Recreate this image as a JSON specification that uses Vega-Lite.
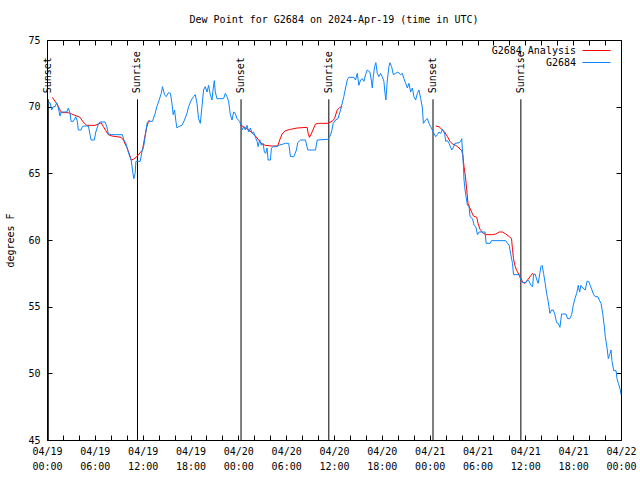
{
"$schema": "https://vega.github.io/schema/vega-lite/v6.json",
"width": 574, "height": 400,
"autosize": "none",
"padding": {"left": 47, "top": 40, "right": 19, "bottom": 40},
"background": "white",
"title": {"text": "Dew Point for G2684 on 2024-Apr-19 (time in UTC)", "font": "DejaVu Sans Mono", "fontSize": 10, "fontWeight": "normal", "color": "black", "anchor": "middle", "offset": 10},
"config": {
  "view": {"stroke": "black", "strokeWidth": 1},
  "axis": {"labelFont": "DejaVu Sans Mono", "labelFontSize": 10, "labelColor": "black", "titleFont": "DejaVu Sans Mono", "titleFontSize": 10, "titleFontWeight": "normal", "titleColor": "black", "tickColor": "black", "grid": false, "tickSize": -5, "labelOverlap": false, "labelFlush": false, "domain": false}
},
"datasets": {
"sun": [
{"hour": 0.16, "event": "Sunset"}, {"hour": 11.35, "event": "Sunrise"}, {"hour": 24.34, "event": "Sunset"},
{"hour": 35.35, "event": "Sunrise"}, {"hour": 48.42, "event": "Sunset"}, {"hour": 59.44, "event": "Sunrise"}
],
"obs": [
{"hour":0.67,"dewpoint":70.7,"series":"G2684 Analysis","segment":"a1"},
{"hour":1.01,"dewpoint":70.4,"series":"G2684 Analysis","segment":"a1"},
{"hour":1.34,"dewpoint":70.1,"series":"G2684 Analysis","segment":"a1"},
{"hour":1.63,"dewpoint":69.75,"series":"G2684 Analysis","segment":"a1"},
{"hour":1.85,"dewpoint":69.55,"series":"G2684 Analysis","segment":"a1"},
{"hour":2.68,"dewpoint":69.55,"series":"G2684 Analysis","segment":"a1"},
{"hour":3.10,"dewpoint":69.45,"series":"G2684 Analysis","segment":"a1"},
{"hour":3.73,"dewpoint":69.3,"series":"G2684 Analysis","segment":"a1"},
{"hour":4.15,"dewpoint":69.2,"series":"G2684 Analysis","segment":"a1"},
{"hour":4.36,"dewpoint":69.0,"series":"G2684 Analysis","segment":"a1"},
{"hour":4.69,"dewpoint":68.75,"series":"G2684 Analysis","segment":"a1"},
{"hour":4.99,"dewpoint":68.6,"series":"G2684 Analysis","segment":"a1"},
{"hour":6.03,"dewpoint":68.6,"series":"G2684 Analysis","segment":"a1"},
{"hour":6.45,"dewpoint":68.7,"series":"G2684 Analysis","segment":"a1"},
{"hour":6.79,"dewpoint":68.8,"series":"G2684 Analysis","segment":"a1"},
{"hour":7.07,"dewpoint":68.5,"series":"G2684 Analysis","segment":"a1"},
{"hour":7.38,"dewpoint":68.2,"series":"G2684 Analysis","segment":"a1"},
{"hour":7.70,"dewpoint":67.9,"series":"G2684 Analysis","segment":"a1"},
{"hour":8.13,"dewpoint":67.8,"series":"G2684 Analysis","segment":"a1"},
{"hour":8.76,"dewpoint":67.75,"series":"G2684 Analysis","segment":"a1"},
{"hour":9.30,"dewpoint":67.7,"series":"G2684 Analysis","segment":"a1"},
{"hour":9.59,"dewpoint":67.5,"series":"G2684 Analysis","segment":"a1"},
{"hour":9.80,"dewpoint":67.2,"series":"G2684 Analysis","segment":"a1"},
{"hour":10.02,"dewpoint":66.95,"series":"G2684 Analysis","segment":"a1"},
{"hour":10.30,"dewpoint":66.5,"series":"G2684 Analysis","segment":"a1"},
{"hour":10.56,"dewpoint":66.0,"series":"G2684 Analysis","segment":"a1"},
{"hour":10.84,"dewpoint":66.05,"series":"G2684 Analysis","segment":"a1"},
{"hour":11.27,"dewpoint":66.25,"series":"G2684 Analysis","segment":"a1"},
{"hour":11.69,"dewpoint":66.55,"series":"G2684 Analysis","segment":"a1"},
{"hour":11.98,"dewpoint":66.75,"series":"G2684 Analysis","segment":"a1"},
{"hour":12.23,"dewpoint":67.6,"series":"G2684 Analysis","segment":"a1"},
{"hour":12.48,"dewpoint":68.4,"series":"G2684 Analysis","segment":"a1"},
{"hour":12.73,"dewpoint":68.9,"series":"G2684 Analysis","segment":"a1"},
{"hour":12.86,"dewpoint":69.0,"series":"G2684 Analysis","segment":"a1"},
{"hour":24.25,"dewpoint":68.6,"series":"G2684 Analysis","segment":"a2"},
{"hour":24.67,"dewpoint":68.5,"series":"G2684 Analysis","segment":"a2"},
{"hour":25.30,"dewpoint":68.25,"series":"G2684 Analysis","segment":"a2"},
{"hour":25.72,"dewpoint":68.05,"series":"G2684 Analysis","segment":"a2"},
{"hour":26.14,"dewpoint":67.8,"series":"G2684 Analysis","segment":"a2"},
{"hour":26.55,"dewpoint":67.5,"series":"G2684 Analysis","segment":"a2"},
{"hour":26.98,"dewpoint":67.2,"series":"G2684 Analysis","segment":"a2"},
{"hour":27.39,"dewpoint":67.1,"series":"G2684 Analysis","segment":"a2"},
{"hour":28.24,"dewpoint":67.05,"series":"G2684 Analysis","segment":"a2"},
{"hour":28.94,"dewpoint":67.05,"series":"G2684 Analysis","segment":"a2"},
{"hour":29.19,"dewpoint":67.5,"series":"G2684 Analysis","segment":"a2"},
{"hour":29.49,"dewpoint":67.95,"series":"G2684 Analysis","segment":"a2"},
{"hour":29.91,"dewpoint":68.2,"series":"G2684 Analysis","segment":"a2"},
{"hour":30.54,"dewpoint":68.3,"series":"G2684 Analysis","segment":"a2"},
{"hour":31.38,"dewpoint":68.4,"series":"G2684 Analysis","segment":"a2"},
{"hour":32.63,"dewpoint":68.45,"series":"G2684 Analysis","segment":"a2"},
{"hour":32.76,"dewpoint":68.0,"series":"G2684 Analysis","segment":"a2"},
{"hour":32.92,"dewpoint":67.7,"series":"G2684 Analysis","segment":"a2"},
{"hour":33.14,"dewpoint":67.95,"series":"G2684 Analysis","segment":"a2"},
{"hour":33.46,"dewpoint":68.4,"series":"G2684 Analysis","segment":"a2"},
{"hour":33.68,"dewpoint":68.7,"series":"G2684 Analysis","segment":"a2"},
{"hour":34.09,"dewpoint":68.75,"series":"G2684 Analysis","segment":"a2"},
{"hour":35.15,"dewpoint":68.75,"series":"G2684 Analysis","segment":"a2"},
{"hour":35.78,"dewpoint":68.9,"series":"G2684 Analysis","segment":"a2"},
{"hour":36.06,"dewpoint":69.1,"series":"G2684 Analysis","segment":"a2"},
{"hour":36.40,"dewpoint":69.75,"series":"G2684 Analysis","segment":"a2"},
{"hour":36.73,"dewpoint":69.95,"series":"G2684 Analysis","segment":"a2"},
{"hour":37.03,"dewpoint":70.0,"series":"G2684 Analysis","segment":"a2"},
{"hour":48.76,"dewpoint":68.55,"series":"G2684 Analysis","segment":"a3"},
{"hour":49.17,"dewpoint":68.5,"series":"G2684 Analysis","segment":"a3"},
{"hour":49.60,"dewpoint":68.25,"series":"G2684 Analysis","segment":"a3"},
{"hour":49.89,"dewpoint":68.1,"series":"G2684 Analysis","segment":"a3"},
{"hour":50.23,"dewpoint":67.75,"series":"G2684 Analysis","segment":"a3"},
{"hour":50.55,"dewpoint":67.4,"series":"G2684 Analysis","segment":"a3"},
{"hour":50.86,"dewpoint":67.2,"series":"G2684 Analysis","segment":"a3"},
{"hour":51.27,"dewpoint":67.1,"series":"G2684 Analysis","segment":"a3"},
{"hour":51.68,"dewpoint":66.9,"series":"G2684 Analysis","segment":"a3"},
{"hour":52.02,"dewpoint":66.7,"series":"G2684 Analysis","segment":"a3"},
{"hour":52.15,"dewpoint":66.4,"series":"G2684 Analysis","segment":"a3"},
{"hour":52.31,"dewpoint":65.5,"series":"G2684 Analysis","segment":"a3"},
{"hour":52.49,"dewpoint":64.75,"series":"G2684 Analysis","segment":"a3"},
{"hour":52.65,"dewpoint":63.75,"series":"G2684 Analysis","segment":"a3"},
{"hour":52.81,"dewpoint":62.75,"series":"G2684 Analysis","segment":"a3"},
{"hour":53.15,"dewpoint":62.25,"series":"G2684 Analysis","segment":"a3"},
{"hour":53.49,"dewpoint":61.8,"series":"G2684 Analysis","segment":"a3"},
{"hour":53.91,"dewpoint":61.7,"series":"G2684 Analysis","segment":"a3"},
{"hour":54.07,"dewpoint":61.25,"series":"G2684 Analysis","segment":"a3"},
{"hour":54.32,"dewpoint":60.8,"series":"G2684 Analysis","segment":"a3"},
{"hour":54.62,"dewpoint":60.55,"series":"G2684 Analysis","segment":"a3"},
{"hour":55.04,"dewpoint":60.4,"series":"G2684 Analysis","segment":"a3"},
{"hour":55.88,"dewpoint":60.4,"series":"G2684 Analysis","segment":"a3"},
{"hour":56.30,"dewpoint":60.45,"series":"G2684 Analysis","segment":"a3"},
{"hour":56.72,"dewpoint":60.6,"series":"G2684 Analysis","segment":"a3"},
{"hour":57.14,"dewpoint":60.6,"series":"G2684 Analysis","segment":"a3"},
{"hour":57.55,"dewpoint":60.45,"series":"G2684 Analysis","segment":"a3"},
{"hour":57.97,"dewpoint":60.25,"series":"G2684 Analysis","segment":"a3"},
{"hour":58.27,"dewpoint":60.1,"series":"G2684 Analysis","segment":"a3"},
{"hour":58.39,"dewpoint":59.3,"series":"G2684 Analysis","segment":"a3"},
{"hour":58.52,"dewpoint":58.6,"series":"G2684 Analysis","segment":"a3"},
{"hour":58.68,"dewpoint":58.1,"series":"G2684 Analysis","segment":"a3"},
{"hour":58.93,"dewpoint":57.7,"series":"G2684 Analysis","segment":"a3"},
{"hour":59.22,"dewpoint":57.4,"series":"G2684 Analysis","segment":"a3"},
{"hour":59.65,"dewpoint":56.85,"series":"G2684 Analysis","segment":"a3"},
{"hour":59.95,"dewpoint":56.75,"series":"G2684 Analysis","segment":"a3"},
{"hour":60.28,"dewpoint":57.0,"series":"G2684 Analysis","segment":"a3"},
{"hour":60.91,"dewpoint":57.5,"series":"G2684 Analysis","segment":"a3"},
{"hour":61.03,"dewpoint":57.4,"series":"G2684 Analysis","segment":"a3"},
{"hour":0.16,"dewpoint":70.25,"series":"G2684","segment":"o"},
{"hour":0.38,"dewpoint":70.3,"series":"G2684","segment":"o"},
{"hour":0.59,"dewpoint":69.75,"series":"G2684","segment":"o"},
{"hour":0.79,"dewpoint":70.0,"series":"G2684","segment":"o"},
{"hour":1.01,"dewpoint":70.0,"series":"G2684","segment":"o"},
{"hour":1.22,"dewpoint":70.3,"series":"G2684","segment":"o"},
{"hour":1.42,"dewpoint":69.9,"series":"G2684","segment":"o"},
{"hour":1.63,"dewpoint":69.3,"series":"G2684","segment":"o"},
{"hour":1.76,"dewpoint":69.6,"series":"G2684","segment":"o"},
{"hour":2.48,"dewpoint":69.6,"series":"G2684","segment":"o"},
{"hour":2.68,"dewpoint":69.9,"series":"G2684","segment":"o"},
{"hour":2.89,"dewpoint":69.5,"series":"G2684","segment":"o"},
{"hour":3.02,"dewpoint":68.9,"series":"G2684","segment":"o"},
{"hour":3.30,"dewpoint":68.9,"series":"G2684","segment":"o"},
{"hour":3.61,"dewpoint":69.25,"series":"G2684","segment":"o"},
{"hour":3.81,"dewpoint":68.9,"series":"G2684","segment":"o"},
{"hour":3.93,"dewpoint":68.25,"series":"G2684","segment":"o"},
{"hour":4.27,"dewpoint":68.25,"series":"G2684","segment":"o"},
{"hour":4.44,"dewpoint":68.5,"series":"G2684","segment":"o"},
{"hour":4.69,"dewpoint":68.55,"series":"G2684","segment":"o"},
{"hour":5.19,"dewpoint":68.55,"series":"G2684","segment":"o"},
{"hour":5.40,"dewpoint":67.9,"series":"G2684","segment":"o"},
{"hour":5.53,"dewpoint":67.5,"series":"G2684","segment":"o"},
{"hour":5.94,"dewpoint":67.5,"series":"G2684","segment":"o"},
{"hour":6.12,"dewpoint":68.1,"series":"G2684","segment":"o"},
{"hour":6.45,"dewpoint":68.7,"series":"G2684","segment":"o"},
{"hour":6.66,"dewpoint":68.85,"series":"G2684","segment":"o"},
{"hour":7.29,"dewpoint":68.85,"series":"G2684","segment":"o"},
{"hour":7.50,"dewpoint":68.5,"series":"G2684","segment":"o"},
{"hour":7.70,"dewpoint":67.95,"series":"G2684","segment":"o"},
{"hour":8.13,"dewpoint":67.9,"series":"G2684","segment":"o"},
{"hour":9.46,"dewpoint":67.9,"series":"G2684","segment":"o"},
{"hour":9.64,"dewpoint":67.5,"series":"G2684","segment":"o"},
{"hour":9.89,"dewpoint":67.25,"series":"G2684","segment":"o"},
{"hour":10.14,"dewpoint":66.7,"series":"G2684","segment":"o"},
{"hour":10.30,"dewpoint":66.4,"series":"G2684","segment":"o"},
{"hour":10.56,"dewpoint":66.0,"series":"G2684","segment":"o"},
{"hour":10.72,"dewpoint":65.25,"series":"G2684","segment":"o"},
{"hour":10.89,"dewpoint":64.6,"series":"G2684","segment":"o"},
{"hour":11.06,"dewpoint":65.0,"series":"G2684","segment":"o"},
{"hour":11.15,"dewpoint":65.9,"series":"G2684","segment":"o"},
{"hour":11.69,"dewpoint":65.9,"series":"G2684","segment":"o"},
{"hour":11.90,"dewpoint":66.6,"series":"G2684","segment":"o"},
{"hour":12.15,"dewpoint":67.1,"series":"G2684","segment":"o"},
{"hour":12.31,"dewpoint":67.75,"series":"G2684","segment":"o"},
{"hour":12.57,"dewpoint":68.8,"series":"G2684","segment":"o"},
{"hour":12.73,"dewpoint":68.9,"series":"G2684","segment":"o"},
{"hour":13.23,"dewpoint":68.9,"series":"G2684","segment":"o"},
{"hour":13.57,"dewpoint":69.5,"series":"G2684","segment":"o"},
{"hour":13.78,"dewpoint":70.0,"series":"G2684","segment":"o"},
{"hour":14.07,"dewpoint":70.5,"series":"G2684","segment":"o"},
{"hour":14.33,"dewpoint":71.0,"series":"G2684","segment":"o"},
{"hour":14.49,"dewpoint":71.5,"series":"G2684","segment":"o"},
{"hour":14.74,"dewpoint":70.9,"series":"G2684","segment":"o"},
{"hour":14.95,"dewpoint":70.75,"series":"G2684","segment":"o"},
{"hour":15.24,"dewpoint":71.05,"series":"G2684","segment":"o"},
{"hour":15.49,"dewpoint":71.0,"series":"G2684","segment":"o"},
{"hour":15.67,"dewpoint":70.25,"series":"G2684","segment":"o"},
{"hour":15.83,"dewpoint":69.4,"series":"G2684","segment":"o"},
{"hour":16.00,"dewpoint":69.75,"series":"G2684","segment":"o"},
{"hour":16.17,"dewpoint":68.9,"series":"G2684","segment":"o"},
{"hour":16.30,"dewpoint":68.4,"series":"G2684","segment":"o"},
{"hour":16.50,"dewpoint":68.5,"series":"G2684","segment":"o"},
{"hour":16.93,"dewpoint":68.6,"series":"G2684","segment":"o"},
{"hour":17.25,"dewpoint":69.0,"series":"G2684","segment":"o"},
{"hour":17.55,"dewpoint":69.5,"series":"G2684","segment":"o"},
{"hour":17.76,"dewpoint":70.0,"series":"G2684","segment":"o"},
{"hour":18.10,"dewpoint":70.5,"series":"G2684","segment":"o"},
{"hour":18.38,"dewpoint":70.75,"series":"G2684","segment":"o"},
{"hour":18.60,"dewpoint":70.9,"series":"G2684","segment":"o"},
{"hour":18.81,"dewpoint":70.25,"series":"G2684","segment":"o"},
{"hour":19.01,"dewpoint":69.1,"series":"G2684","segment":"o"},
{"hour":19.23,"dewpoint":68.75,"series":"G2684","segment":"o"},
{"hour":19.44,"dewpoint":70.0,"series":"G2684","segment":"o"},
{"hour":19.64,"dewpoint":71.25,"series":"G2684","segment":"o"},
{"hour":19.85,"dewpoint":71.5,"series":"G2684","segment":"o"},
{"hour":20.07,"dewpoint":71.1,"series":"G2684","segment":"o"},
{"hour":20.27,"dewpoint":71.6,"series":"G2684","segment":"o"},
{"hour":20.48,"dewpoint":70.9,"series":"G2684","segment":"o"},
{"hour":20.70,"dewpoint":70.5,"series":"G2684","segment":"o"},
{"hour":20.82,"dewpoint":71.25,"series":"G2684","segment":"o"},
{"hour":20.99,"dewpoint":71.95,"series":"G2684","segment":"o"},
{"hour":21.11,"dewpoint":71.1,"series":"G2684","segment":"o"},
{"hour":21.32,"dewpoint":70.6,"series":"G2684","segment":"o"},
{"hour":22.15,"dewpoint":70.6,"series":"G2684","segment":"o"},
{"hour":22.37,"dewpoint":71.0,"series":"G2684","segment":"o"},
{"hour":22.58,"dewpoint":70.75,"series":"G2684","segment":"o"},
{"hour":22.78,"dewpoint":70.4,"series":"G2684","segment":"o"},
{"hour":23.00,"dewpoint":69.4,"series":"G2684","segment":"o"},
{"hour":23.21,"dewpoint":69.0,"series":"G2684","segment":"o"},
{"hour":23.41,"dewpoint":69.6,"series":"G2684","segment":"o"},
{"hour":23.62,"dewpoint":69.5,"series":"G2684","segment":"o"},
{"hour":23.84,"dewpoint":69.1,"series":"G2684","segment":"o"},
{"hour":24.16,"dewpoint":68.9,"series":"G2684","segment":"o"},
{"hour":24.34,"dewpoint":68.6,"series":"G2684","segment":"o"},
{"hour":24.47,"dewpoint":68.25,"series":"G2684","segment":"o"},
{"hour":24.67,"dewpoint":68.5,"series":"G2684","segment":"o"},
{"hour":24.88,"dewpoint":68.25,"series":"G2684","segment":"o"},
{"hour":25.09,"dewpoint":68.6,"series":"G2684","segment":"o"},
{"hour":25.30,"dewpoint":68.1,"series":"G2684","segment":"o"},
{"hour":25.51,"dewpoint":68.4,"series":"G2684","segment":"o"},
{"hour":25.72,"dewpoint":68.0,"series":"G2684","segment":"o"},
{"hour":25.92,"dewpoint":68.1,"series":"G2684","segment":"o"},
{"hour":26.14,"dewpoint":67.7,"series":"G2684","segment":"o"},
{"hour":26.35,"dewpoint":67.4,"series":"G2684","segment":"o"},
{"hour":26.48,"dewpoint":67.0,"series":"G2684","segment":"o"},
{"hour":26.68,"dewpoint":67.5,"series":"G2684","segment":"o"},
{"hour":26.89,"dewpoint":67.1,"series":"G2684","segment":"o"},
{"hour":27.10,"dewpoint":67.25,"series":"G2684","segment":"o"},
{"hour":27.27,"dewpoint":66.6,"series":"G2684","segment":"o"},
{"hour":27.43,"dewpoint":66.5,"series":"G2684","segment":"o"},
{"hour":27.61,"dewpoint":66.9,"series":"G2684","segment":"o"},
{"hour":27.73,"dewpoint":66.0,"series":"G2684","segment":"o"},
{"hour":28.02,"dewpoint":66.0,"series":"G2684","segment":"o"},
{"hour":28.15,"dewpoint":66.9,"series":"G2684","segment":"o"},
{"hour":28.36,"dewpoint":67.0,"series":"G2684","segment":"o"},
{"hour":28.86,"dewpoint":67.0,"series":"G2684","segment":"o"},
{"hour":29.07,"dewpoint":67.1,"series":"G2684","segment":"o"},
{"hour":29.91,"dewpoint":67.25,"series":"G2684","segment":"o"},
{"hour":30.32,"dewpoint":67.25,"series":"G2684","segment":"o"},
{"hour":30.54,"dewpoint":66.25,"series":"G2684","segment":"o"},
{"hour":30.95,"dewpoint":66.25,"series":"G2684","segment":"o"},
{"hour":31.29,"dewpoint":66.75,"series":"G2684","segment":"o"},
{"hour":31.45,"dewpoint":67.3,"series":"G2684","segment":"o"},
{"hour":31.79,"dewpoint":67.5,"series":"G2684","segment":"o"},
{"hour":32.42,"dewpoint":67.5,"series":"G2684","segment":"o"},
{"hour":32.71,"dewpoint":66.75,"series":"G2684","segment":"o"},
{"hour":33.68,"dewpoint":66.75,"series":"G2684","segment":"o"},
{"hour":33.89,"dewpoint":67.5,"series":"G2684","segment":"o"},
{"hour":35.22,"dewpoint":67.55,"series":"G2684","segment":"o"},
{"hour":35.47,"dewpoint":67.75,"series":"G2684","segment":"o"},
{"hour":35.69,"dewpoint":68.1,"series":"G2684","segment":"o"},
{"hour":35.90,"dewpoint":68.75,"series":"G2684","segment":"o"},
{"hour":36.19,"dewpoint":69.0,"series":"G2684","segment":"o"},
{"hour":36.50,"dewpoint":69.1,"series":"G2684","segment":"o"},
{"hour":36.82,"dewpoint":69.75,"series":"G2684","segment":"o"},
{"hour":37.23,"dewpoint":70.75,"series":"G2684","segment":"o"},
{"hour":37.45,"dewpoint":71.4,"series":"G2684","segment":"o"},
{"hour":37.66,"dewpoint":72.0,"series":"G2684","segment":"o"},
{"hour":37.86,"dewpoint":72.2,"series":"G2684","segment":"o"},
{"hour":38.49,"dewpoint":72.2,"series":"G2684","segment":"o"},
{"hour":38.70,"dewpoint":72.0,"series":"G2684","segment":"o"},
{"hour":38.92,"dewpoint":72.5,"series":"G2684","segment":"o"},
{"hour":39.12,"dewpoint":71.6,"series":"G2684","segment":"o"},
{"hour":39.33,"dewpoint":72.0,"series":"G2684","segment":"o"},
{"hour":39.55,"dewpoint":72.1,"series":"G2684","segment":"o"},
{"hour":39.75,"dewpoint":71.9,"series":"G2684","segment":"o"},
{"hour":39.96,"dewpoint":72.4,"series":"G2684","segment":"o"},
{"hour":40.17,"dewpoint":72.75,"series":"G2684","segment":"o"},
{"hour":40.50,"dewpoint":72.6,"series":"G2684","segment":"o"},
{"hour":40.68,"dewpoint":72.0,"series":"G2684","segment":"o"},
{"hour":40.80,"dewpoint":71.4,"series":"G2684","segment":"o"},
{"hour":40.93,"dewpoint":72.25,"series":"G2684","segment":"o"},
{"hour":41.09,"dewpoint":73.0,"series":"G2684","segment":"o"},
{"hour":41.25,"dewpoint":73.3,"series":"G2684","segment":"o"},
{"hour":41.43,"dewpoint":72.5,"series":"G2684","segment":"o"},
{"hour":41.63,"dewpoint":72.25,"series":"G2684","segment":"o"},
{"hour":41.84,"dewpoint":72.5,"series":"G2684","segment":"o"},
{"hour":42.06,"dewpoint":72.25,"series":"G2684","segment":"o"},
{"hour":42.26,"dewpoint":71.9,"series":"G2684","segment":"o"},
{"hour":42.38,"dewpoint":71.1,"series":"G2684","segment":"o"},
{"hour":42.51,"dewpoint":70.5,"series":"G2684","segment":"o"},
{"hour":42.69,"dewpoint":72.0,"series":"G2684","segment":"o"},
{"hour":42.89,"dewpoint":73.0,"series":"G2684","segment":"o"},
{"hour":43.01,"dewpoint":73.3,"series":"G2684","segment":"o"},
{"hour":43.23,"dewpoint":73.0,"series":"G2684","segment":"o"},
{"hour":43.44,"dewpoint":72.4,"series":"G2684","segment":"o"},
{"hour":43.73,"dewpoint":72.5,"series":"G2684","segment":"o"},
{"hour":44.02,"dewpoint":72.6,"series":"G2684","segment":"o"},
{"hour":44.36,"dewpoint":72.4,"series":"G2684","segment":"o"},
{"hour":44.57,"dewpoint":72.5,"series":"G2684","segment":"o"},
{"hour":44.77,"dewpoint":72.1,"series":"G2684","segment":"o"},
{"hour":44.99,"dewpoint":71.75,"series":"G2684","segment":"o"},
{"hour":45.20,"dewpoint":71.4,"series":"G2684","segment":"o"},
{"hour":45.40,"dewpoint":71.75,"series":"G2684","segment":"o"},
{"hour":45.61,"dewpoint":71.1,"series":"G2684","segment":"o"},
{"hour":45.83,"dewpoint":71.4,"series":"G2684","segment":"o"},
{"hour":46.03,"dewpoint":70.75,"series":"G2684","segment":"o"},
{"hour":46.24,"dewpoint":70.5,"series":"G2684","segment":"o"},
{"hour":46.46,"dewpoint":71.0,"series":"G2684","segment":"o"},
{"hour":46.66,"dewpoint":71.25,"series":"G2684","segment":"o"},
{"hour":46.87,"dewpoint":70.6,"series":"G2684","segment":"o"},
{"hour":47.09,"dewpoint":69.9,"series":"G2684","segment":"o"},
{"hour":47.21,"dewpoint":68.75,"series":"G2684","segment":"o"},
{"hour":47.50,"dewpoint":69.0,"series":"G2684","segment":"o"},
{"hour":47.71,"dewpoint":69.1,"series":"G2684","segment":"o"},
{"hour":47.91,"dewpoint":68.75,"series":"G2684","segment":"o"},
{"hour":48.13,"dewpoint":68.5,"series":"G2684","segment":"o"},
{"hour":48.34,"dewpoint":68.25,"series":"G2684","segment":"o"},
{"hour":48.54,"dewpoint":68.0,"series":"G2684","segment":"o"},
{"hour":48.76,"dewpoint":67.75,"series":"G2684","segment":"o"},
{"hour":48.97,"dewpoint":67.9,"series":"G2684","segment":"o"},
{"hour":49.17,"dewpoint":68.1,"series":"G2684","segment":"o"},
{"hour":49.38,"dewpoint":68.0,"series":"G2684","segment":"o"},
{"hour":49.60,"dewpoint":68.3,"series":"G2684","segment":"o"},
{"hour":49.89,"dewpoint":67.95,"series":"G2684","segment":"o"},
{"hour":50.01,"dewpoint":67.4,"series":"G2684","segment":"o"},
{"hour":50.23,"dewpoint":67.45,"series":"G2684","segment":"o"},
{"hour":50.43,"dewpoint":67.25,"series":"G2684","segment":"o"},
{"hour":50.77,"dewpoint":66.75,"series":"G2684","segment":"o"},
{"hour":50.98,"dewpoint":66.95,"series":"G2684","segment":"o"},
{"hour":51.18,"dewpoint":67.25,"series":"G2684","segment":"o"},
{"hour":51.68,"dewpoint":67.3,"series":"G2684","segment":"o"},
{"hour":51.90,"dewpoint":67.4,"series":"G2684","segment":"o"},
{"hour":52.02,"dewpoint":67.6,"series":"G2684","segment":"o"},
{"hour":52.15,"dewpoint":66.4,"series":"G2684","segment":"o"},
{"hour":52.24,"dewpoint":65.5,"series":"G2684","segment":"o"},
{"hour":52.31,"dewpoint":64.5,"series":"G2684","segment":"o"},
{"hour":52.44,"dewpoint":63.75,"series":"G2684","segment":"o"},
{"hour":52.56,"dewpoint":63.25,"series":"G2684","segment":"o"},
{"hour":52.74,"dewpoint":62.6,"series":"G2684","segment":"o"},
{"hour":52.94,"dewpoint":62.5,"series":"G2684","segment":"o"},
{"hour":53.07,"dewpoint":61.75,"series":"G2684","segment":"o"},
{"hour":53.37,"dewpoint":61.6,"series":"G2684","segment":"o"},
{"hour":53.57,"dewpoint":61.1,"series":"G2684","segment":"o"},
{"hour":53.78,"dewpoint":61.0,"series":"G2684","segment":"o"},
{"hour":54.00,"dewpoint":60.4,"series":"G2684","segment":"o"},
{"hour":54.20,"dewpoint":60.6,"series":"G2684","segment":"o"},
{"hour":54.95,"dewpoint":60.6,"series":"G2684","segment":"o"},
{"hour":55.08,"dewpoint":59.75,"series":"G2684","segment":"o"},
{"hour":55.58,"dewpoint":59.75,"series":"G2684","segment":"o"},
{"hour":55.76,"dewpoint":59.95,"series":"G2684","segment":"o"},
{"hour":57.55,"dewpoint":59.95,"series":"G2684","segment":"o"},
{"hour":57.77,"dewpoint":59.75,"series":"G2684","segment":"o"},
{"hour":57.97,"dewpoint":59.6,"series":"G2684","segment":"o"},
{"hour":58.18,"dewpoint":58.9,"series":"G2684","segment":"o"},
{"hour":58.39,"dewpoint":58.25,"series":"G2684","segment":"o"},
{"hour":58.52,"dewpoint":57.4,"series":"G2684","segment":"o"},
{"hour":59.22,"dewpoint":57.4,"series":"G2684","segment":"o"},
{"hour":59.44,"dewpoint":57.0,"series":"G2684","segment":"o"},
{"hour":59.65,"dewpoint":56.8,"series":"G2684","segment":"o"},
{"hour":60.07,"dewpoint":56.8,"series":"G2684","segment":"o"},
{"hour":60.28,"dewpoint":57.0,"series":"G2684","segment":"o"},
{"hour":60.48,"dewpoint":56.9,"series":"G2684","segment":"o"},
{"hour":60.69,"dewpoint":56.6,"series":"G2684","segment":"o"},
{"hour":60.91,"dewpoint":56.5,"series":"G2684","segment":"o"},
{"hour":61.03,"dewpoint":57.4,"series":"G2684","segment":"o"},
{"hour":61.23,"dewpoint":57.45,"series":"G2684","segment":"o"},
{"hour":61.45,"dewpoint":57.0,"series":"G2684","segment":"o"},
{"hour":61.61,"dewpoint":56.75,"series":"G2684","segment":"o"},
{"hour":61.82,"dewpoint":57.5,"series":"G2684","segment":"o"},
{"hour":61.95,"dewpoint":58.0,"series":"G2684","segment":"o"},
{"hour":62.11,"dewpoint":58.1,"series":"G2684","segment":"o"},
{"hour":62.29,"dewpoint":57.5,"series":"G2684","segment":"o"},
{"hour":62.49,"dewpoint":56.75,"series":"G2684","segment":"o"},
{"hour":62.67,"dewpoint":56.0,"series":"G2684","segment":"o"},
{"hour":62.87,"dewpoint":55.4,"series":"G2684","segment":"o"},
{"hour":63.08,"dewpoint":54.5,"series":"G2684","segment":"o"},
{"hour":63.30,"dewpoint":54.75,"series":"G2684","segment":"o"},
{"hour":63.50,"dewpoint":54.75,"series":"G2684","segment":"o"},
{"hour":63.71,"dewpoint":54.4,"series":"G2684","segment":"o"},
{"hour":63.92,"dewpoint":53.8,"series":"G2684","segment":"o"},
{"hour":64.12,"dewpoint":53.75,"series":"G2684","segment":"o"},
{"hour":64.34,"dewpoint":53.45,"series":"G2684","segment":"o"},
{"hour":64.55,"dewpoint":54.45,"series":"G2684","segment":"o"},
{"hour":65.09,"dewpoint":54.45,"series":"G2684","segment":"o"},
{"hour":65.30,"dewpoint":54.1,"series":"G2684","segment":"o"},
{"hour":65.59,"dewpoint":54.1,"series":"G2684","segment":"o"},
{"hour":65.81,"dewpoint":54.4,"series":"G2684","segment":"o"},
{"hour":66.01,"dewpoint":55.1,"series":"G2684","segment":"o"},
{"hour":66.22,"dewpoint":55.6,"series":"G2684","segment":"o"},
{"hour":66.44,"dewpoint":56.0,"series":"G2684","segment":"o"},
{"hour":66.64,"dewpoint":56.6,"series":"G2684","segment":"o"},
{"hour":66.81,"dewpoint":56.1,"series":"G2684","segment":"o"},
{"hour":66.98,"dewpoint":56.6,"series":"G2684","segment":"o"},
{"hour":67.19,"dewpoint":56.4,"series":"G2684","segment":"o"},
{"hour":67.52,"dewpoint":56.25,"series":"G2684","segment":"o"},
{"hour":67.73,"dewpoint":56.9,"series":"G2684","segment":"o"},
{"hour":67.94,"dewpoint":56.9,"series":"G2684","segment":"o"},
{"hour":68.14,"dewpoint":56.6,"series":"G2684","segment":"o"},
{"hour":68.36,"dewpoint":56.25,"series":"G2684","segment":"o"},
{"hour":68.57,"dewpoint":55.9,"series":"G2684","segment":"o"},
{"hour":68.77,"dewpoint":55.75,"series":"G2684","segment":"o"},
{"hour":69.08,"dewpoint":55.75,"series":"G2684","segment":"o"},
{"hour":69.28,"dewpoint":55.5,"series":"G2684","segment":"o"},
{"hour":69.49,"dewpoint":55.25,"series":"G2684","segment":"o"},
{"hour":69.70,"dewpoint":54.5,"series":"G2684","segment":"o"},
{"hour":69.91,"dewpoint":53.5,"series":"G2684","segment":"o"},
{"hour":70.03,"dewpoint":52.75,"series":"G2684","segment":"o"},
{"hour":70.25,"dewpoint":51.9,"series":"G2684","segment":"o"},
{"hour":70.41,"dewpoint":51.1,"series":"G2684","segment":"o"},
{"hour":70.58,"dewpoint":51.4,"series":"G2684","segment":"o"},
{"hour":70.75,"dewpoint":51.75,"series":"G2684","segment":"o"},
{"hour":70.87,"dewpoint":50.9,"series":"G2684","segment":"o"},
{"hour":71.09,"dewpoint":50.2,"series":"G2684","segment":"o"},
{"hour":71.38,"dewpoint":50.2,"series":"G2684","segment":"o"},
{"hour":71.50,"dewpoint":49.6,"series":"G2684","segment":"o"},
{"hour":71.67,"dewpoint":49.25,"series":"G2684","segment":"o"},
{"hour":71.92,"dewpoint":48.75,"series":"G2684","segment":"o"},
{"hour":72.00,"dewpoint":48.4,"series":"G2684","segment":"o"}
]
},
"layer": [
{
  "data": {"name": "sun"},
  "mark": {"type": "rule", "color": "black", "strokeWidth": 1},
  "encoding": {
    "x": {"field": "hour", "type": "quantitative", "scale": {"domain": [0, 72], "nice": false, "zero": false},
          "axis": {"orient": "top", "values": [0,2,4,6,8,10,12,14,16,18,20,22,24,26,28,30,32,34,36,38,40,42,44,46,48,50,52,54,56,58,60,62,64,66,68,70,72], "labels": false, "title": null}},
    "y": {"datum": 70.55, "type": "quantitative", "scale": {"domain": [45, 75], "nice": false, "zero": false},
          "axis": {"orient": "right", "values": [45,50,55,60,65,70,75], "labels": false, "title": null}},
    "y2": {"datum": 45}
  }
},
{
  "data": {"name": "sun"},
  "mark": {"type": "text", "angle": 270, "align": "left", "baseline": "middle", "font": "DejaVu Sans Mono", "fontSize": 10, "color": "black"},
  "encoding": {
    "x": {"field": "hour", "type": "quantitative", "axis": null},
    "y": {"datum": 71.0, "type": "quantitative", "axis": null},
    "text": {"field": "event"}
  }
},
{
  "data": {"name": "obs"},
  "mark": {"type": "line", "strokeWidth": 1},
  "encoding": {
    "x": {"field": "hour", "type": "quantitative",
          "axis": {"orient": "bottom", "values": [0,2,4,6,8,10,12,14,16,18,20,22,24,26,28,30,32,34,36,38,40,42,44,46,48,50,52,54,56,58,60,62,64,66,68,70,72],
                   "labelExpr": "datum.value % 6 === 0 ? ['04/' + (19 + floor(datum.value / 24)), (datum.value % 24 < 10 ? '0' : '') + (datum.value % 24) + ':00'] : ''",
                   "labelPadding": 11, "labelLineHeight": 15, "title": null}},
    "y": {"field": "dewpoint", "type": "quantitative",
          "axis": {"orient": "left", "values": [45,50,55,60,65,70,75], "labelPadding": 12, "title": "degrees F", "titleX": -37, "titleY": 200, "titleAngle": 270, "titleAlign": "center", "titleBaseline": "middle"}},
    "color": {"field": "series", "type": "nominal",
              "scale": {"domain": ["G2684 Analysis", "G2684"], "range": ["#ff0000", "#0a84ff"]},
              "legend": {"title": null, "orient": "none", "legendX": 544, "legendY": 5, "symbolType": "M-2.8,0H2.8", "symbolSize": 100, "symbolStrokeWidth": 1,
                         "labelFont": "DejaVu Sans Mono", "labelFontSize": 10, "labelColor": "black", "labelAlign": "right", "labelOffset": -26, "rowPadding": 1, "padding": 0}},
    "detail": {"field": "segment"}
  }
}
],
"resolve": {"axis": {"x": "independent", "y": "independent"}}
}
